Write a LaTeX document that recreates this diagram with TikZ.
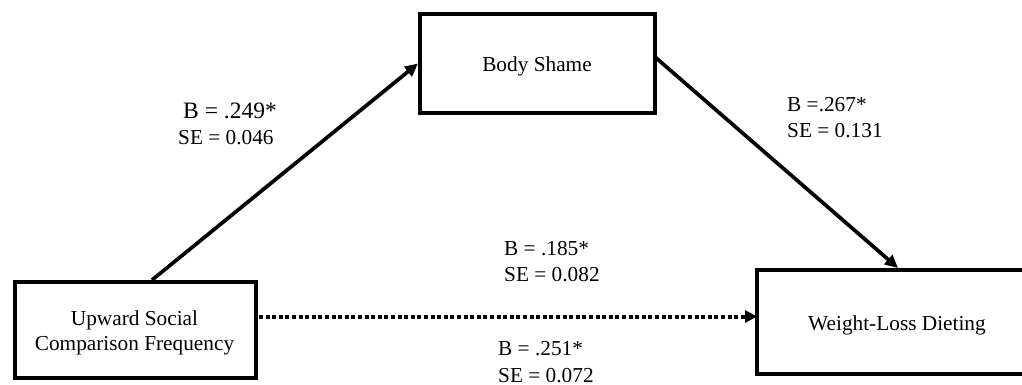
\documentclass[tikz,border=0pt]{standalone}
\usepackage{fontspec}
\setmainfont{Liberation Serif}
\usetikzlibrary{arrows.meta}
\begin{document}
\begin{tikzpicture}[x=1pt,y=-1pt,
  box/.style={draw=black,line width=4pt,rectangle,inner sep=0pt},
  lbl/.style={inner sep=0pt,anchor=base west,font=\fontsize{21.3}{25}\selectfont},
  ctr/.style={inner sep=0pt,anchor=base,font=\fontsize{21.3}{25}\selectfont},
  conn/.style={line width=3.7pt,-{Triangle[length=13pt,width=12pt]}},
  dotline/.style={line width=4pt,dash pattern=on 4pt off 2.6pt,-{Triangle[length=12pt,width=12pt]}}]
\clip (0,0) rectangle (1022,385);
\useasboundingbox (0,0) rectangle (1022,385);
\node[box,minimum width=241pt,minimum height=96pt] (usc) at (135.5,330) {};
\node[ctr] (usc1) at (134.5,325) {Upward Social};
\node[ctr] (usc2) at (134.5,350.5) {Comparison Frequency};
\node[box,minimum width=235pt,minimum height=99pt] (bs) at (537.5,63.5) {};
\node[ctr] (bst) at (537,71.5) {Body Shame};
\node[box,minimum width=282pt,minimum height=104pt] (wl) at (898,322) {};
\node[ctr] (wlt) at (897,330) {Weight-Loss Dieting};
\coordinate (a1s) at (152,280);
\coordinate (a2s) at (655,57);
\coordinate (d1s) at (259,316.5);
\coordinate (d1e) at (757,316.5);
\draw[conn] (a1s) -- (bs.west);
\draw[conn] (a2s) -- (wl.north);
\draw[dotline] (d1s) -- (d1e);
\node[lbl,font=\fontsize{23.5}{27}\selectfont] (l1a) at (183,119) {B = .249*};
\node[lbl] (l1b) at (178,144) {SE = 0.046};
\node[lbl] (l2a) at (787,112) {B =.267*};
\node[lbl] (l2b) at (787,137) {SE = 0.131};
\node[lbl] (l3a) at (504,255.5) {B = .185*};
\node[lbl] (l3b) at (504,281) {SE = 0.082};
\node[lbl] (l4a) at (498,355) {B = .251*};
\node[lbl] (l4b) at (498,382) {SE = 0.072};
\end{tikzpicture}
\end{document}
